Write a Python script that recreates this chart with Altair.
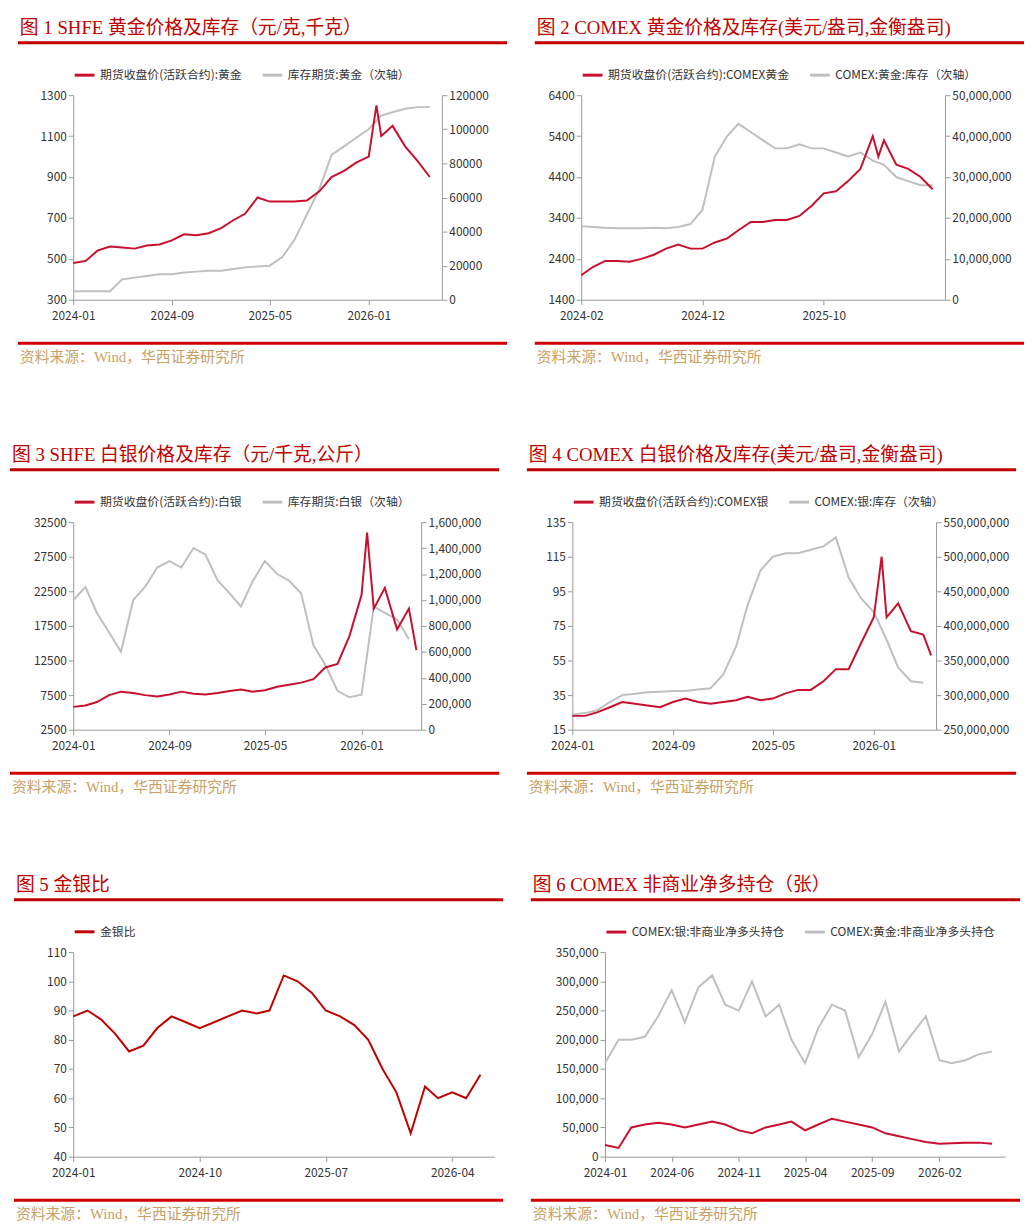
import pandas as pd
import altair as alt

RED = "#c8102e"
GRAY = "#bfbfbf"
TITLE_RED = "#c00000"
SRC = "#c9a063"
SERIF = "Liberation Serif, Noto Sans CJK SC"
SANS = "Noto Sans CJK SC"

# months helper lists (typed out)
m24 = ["2024-01", "2024-02", "2024-03", "2024-04", "2024-05", "2024-06", "2024-07", "2024-08",
       "2024-09", "2024-10", "2024-11", "2024-12"]
m25 = ["2025-01", "2025-02", "2025-03", "2025-04", "2025-05", "2025-06", "2025-07", "2025-08",
       "2025-09", "2025-10", "2025-11", "2025-12"]

# ---- fig 1 SHFE gold
g1_dates = m24 + m25 + ["2026-01", "2026-01-20", "2026-02", "2026-03", "2026-04", "2026-05", "2026-06"]
g1_price = [480, 490, 540, 560, 555, 550, 565, 570, 590, 620, 615, 625,
            650, 690, 720, 800, 780, 780, 780, 785, 830, 900, 930, 970,
            1000, 1250, 1100, 1150, 1050, 980, 900]
g1_inv_dates = m24 + m25 + ["2026-01", "2026-02", "2026-03", "2026-04", "2026-05", "2026-06"]
g1_inv = [5000, 5000, 5000, 5000, 12000, 13000, 14000, 15000, 15000, 16000, 16500, 17000,
          17000, 18000, 19000, 19500, 20000, 25000, 35000, 50000, 65000, 85000, 90000, 95000,
          100000, 108000, 110000, 112000, 113000, 113000]

# ---- fig 2 COMEX gold
g2_dates = m24[1:] + m25 + ["2026-01", "2026-02", "2026-02-15", "2026-03", "2026-04", "2026-05", "2026-06", "2026-07"]
g2_price = [2000, 2200, 2350, 2350, 2330, 2400, 2500, 2650, 2750, 2650, 2650,
            2800, 2900, 3100, 3300, 3300, 3350, 3350, 3450, 3700, 4000, 4050, 4300,
            4600, 5400, 4900, 5300, 4700, 4600, 4400, 4100]
g2_inv_dates = m24[1:] + m25 + ["2026-01", "2026-02", "2026-03", "2026-04", "2026-05", "2026-06", "2026-07"]
g2_inv = [18e6, 17.8e6, 17.6e6, 17.5e6, 17.5e6, 17.5e6, 17.6e6, 17.5e6, 17.8e6, 18.5e6, 22e6,
          35e6, 40e6, 43e6, 41e6, 39e6, 37e6, 37e6, 38e6, 37e6, 37e6, 36e6, 35e6,
          36e6, 34e6, 33e6, 30e6, 29e6, 28e6, 28e6]

# ---- fig 3 SHFE silver
s3_dates = m24 + m25 + ["2026-01", "2026-01-15", "2026-02", "2026-03", "2026-04", "2026-05", "2026-05-20"]
s3_price = [5800, 6000, 6500, 7500, 8000, 7800, 7500, 7300, 7600, 8000, 7700, 7600,
            7800, 8100, 8300, 8000, 8200, 8700, 9000, 9300, 9800, 11500, 12000, 16000,
            22000, 31000, 20000, 23000, 17000, 20000, 14000]
s3_inv_dates = m24 + m25 + ["2026-01", "2026-02", "2026-03", "2026-04", "2026-05"]
s3_inv = [1000000, 1100000, 900000, 750000, 600000, 1000000, 1100000, 1250000, 1300000, 1250000,
          1400000, 1350000, 1150000, 1050000, 950000, 1150000, 1300000, 1200000, 1150000, 1050000,
          650000, 500000, 300000, 250000, 270000, 950000, 900000, 850000, 700000]

# ---- fig 4 COMEX silver
s4_dates = m24 + m25 + ["2026-01", "2026-01-20", "2026-02", "2026-03", "2026-04", "2026-05", "2026-05-20"]
s4_price = [23, 23, 25, 28, 31, 30, 29, 28, 31, 33, 31, 30,
            31, 32, 34, 32, 33, 36, 38, 38, 43, 50, 50, 65,
            80, 115, 80, 88, 72, 70, 58]
s4_inv_dates = m24 + m25 + ["2026-01", "2026-02", "2026-03", "2026-04", "2026-05"]
s4_inv = [272e6, 274e6, 278e6, 290e6, 300e6, 302e6, 304e6, 305e6, 306e6, 306e6, 308e6, 310e6,
          330e6, 370e6, 430e6, 480e6, 500e6, 505e6, 505e6, 510e6, 515e6, 528e6, 470e6, 440e6,
          420e6, 380e6, 340e6, 320e6, 318e6]

# ---- fig 5 gold/silver ratio
r5_dates = m24 + m25 + ["2026-01", "2026-02", "2026-03", "2026-04", "2026-05", "2026-06"]
r5_vals = [88, 90, 87, 82, 76, 78, 84, 88, 86, 84, 86, 88,
           90, 89, 90, 102, 100, 96, 90, 88, 85, 80, 70, 62,
           48, 64, 60, 62, 60, 68]

# ---- fig 6 COMEX net long
n6_dates = m24 + m25 + ["2026-01", "2026-02", "2026-03", "2026-04", "2026-05", "2026-06"]
n6_silver = [20000, 15000, 50000, 55000, 58000, 55000, 50000, 55000, 60000, 55000, 45000, 40000,
             50000, 55000, 60000, 45000, 55000, 65000, 60000, 55000, 50000, 40000, 35000, 30000,
             25000, 22000, 23000, 24000, 24000, 22000]
n6_gold = [160000, 200000, 200000, 205000, 240000, 285000, 230000, 290000, 310000, 260000, 250000, 300000,
           240000, 260000, 200000, 160000, 220000, 260000, 250000, 170000, 210000, 265000, 180000, 210000,
           240000, 165000, 160000, 165000, 175000, 180000]

W = 495
NOVIEW = alt.ViewBackground(strokeWidth=0, stroke="transparent")


def dt(s):
    y, m = s.split("-")[:2]
    return alt.DateTime(year=int(y), month=int(m), date=1)


def header(text, off):
    t = alt.Chart(pd.DataFrame({"t": [text]})).mark_text(
        align="left", baseline="middle", font=SERIF, fontSize=19, color=TITLE_RED
    ).encode(x=alt.value(2 - off), y=alt.value(13), text="t:N")
    r = alt.Chart(pd.DataFrame({"a": [0]})).mark_rule(color=TITLE_RED, strokeWidth=3).encode(
        x=alt.value(-off), x2=alt.value(W - off), y=alt.value(28))
    return (t + r).properties(width=W - off - 10, height=30, view=NOVIEW)


def footer(off):
    r = alt.Chart(pd.DataFrame({"a": [0]})).mark_rule(color="#d00000", strokeWidth=3).encode(
        x=alt.value(-off), x2=alt.value(W - off), y=alt.value(2))
    t = alt.Chart(pd.DataFrame({"t": ["资料来源：Wind，华西证券研究所"]})).mark_text(
        align="left", baseline="middle", font=SERIF, fontSize=15, color=SRC
    ).encode(x=alt.value(2 - off), y=alt.value(16), text="t:N")
    return (r + t).properties(width=W - off - 10, height=26, view=NOVIEW)


def frame(dates, vals, name):
    return pd.DataFrame({"date": pd.to_datetime(dates, format="mixed"), "v": vals, "s": name})


def legend():
    return alt.Legend(orient="top", title=None, symbolType="stroke", symbolStrokeWidth=3,
                      symbolSize=400, labelFontSize=12, labelFont=SANS, labelLimit=400,
                      columnPadding=14, offset=14)


def xaxis(xdom, xticks):
    return alt.X("date:T", title=None,
                 scale=alt.Scale(domain=[dt(xdom[0]), dt(xdom[1])]),
                 axis=alt.Axis(values=[dt(v) for v in xticks], format="%Y-%m", labelFontSize=12,
                               labelFlush=False, grid=False, domainColor="#999", tickColor="#999",
                               labelPadding=6))


AX = dict(grid=False, labelFontSize=12, domainColor="#999", tickColor="#999", tickSize=5)


def plot(series, xdom, xticks, ldom, lticks, rdom=None, rticks=None, rfmt=",d",
         width=370, height=207, colors=(RED, GRAY)):
    names = [s["s"].iloc[0] for s in series]
    color = alt.Color("s:N", scale=alt.Scale(domain=names, range=list(colors[:len(names)])),
                      legend=legend())
    x = xaxis(xdom, xticks)
    left = alt.Chart(series[0]).mark_line(strokeWidth=2).encode(
        x=x, color=color,
        y=alt.Y("v:Q", title=None, scale=alt.Scale(domain=ldom, nice=False, zero=False),
                axis=alt.Axis(values=lticks, format="d", **AX)))
    if rdom is None:
        c = left
    else:
        right = alt.Chart(series[1]).mark_line(strokeWidth=2).encode(
            x=x, color=color,
            y=alt.Y("v:Q", title=None, scale=alt.Scale(domain=rdom, nice=False, zero=False),
                    axis=alt.Axis(values=rticks, format=rfmt, orient="right", **AX)))
        c = alt.layer(right, left).resolve_scale(y="independent")
    return c.properties(width=width, height=height, view=NOVIEW)


def panel(title, off, body):
    return alt.vconcat(
        alt.vconcat(header(title, off), body, spacing=19).resolve_scale(color="independent"),
        footer(off), spacing=20).resolve_scale(color="independent")


p1 = panel("图 1 SHFE 黄金价格及库存（元/克,千克）", 56, plot(
    [frame(g1_dates, g1_price, "期货收盘价(活跃合约):黄金"), frame(g1_inv_dates, g1_inv, "库存期货:黄金（次轴）")],
    ("2024-01", "2026-07"), ["2024-01", "2024-09", "2025-05", "2026-01"],
    [300, 1300], [300, 500, 700, 900, 1100, 1300], [0, 120000], list(range(0, 120001, 20000)), rfmt="d",
    width=373))
p2 = panel("图 2 COMEX 黄金价格及库存(美元/盎司,金衡盎司)", 47, plot(
    [frame(g2_dates, g2_price, "期货收盘价(活跃合约):COMEX黄金"), frame(g2_inv_dates, g2_inv, "COMEX:黄金:库存（次轴）")],
    ("2024-02", "2026-08"), ["2024-02", "2024-12", "2025-10"],
    [1400, 6400], [1400, 2400, 3400, 4400, 5400, 6400], [0, 50e6], [0, 10e6, 20e6, 30e6, 40e6, 50e6],
    width=368))
p3 = panel("图 3  SHFE 白银价格及库存（元/千克,公斤）", 64, plot(
    [frame(s3_dates, s3_price, "期货收盘价(活跃合约):白银"), frame(s3_inv_dates, s3_inv, "库存期货:白银（次轴）")],
    ("2024-01", "2026-06"), ["2024-01", "2024-09", "2025-05", "2026-01"],
    [2500, 32500], [2500, 7500, 12500, 17500, 22500, 27500, 32500], [0, 1.6e6],
    list(range(0, 1600001, 200000)), width=352, height=210))
p4 = panel("图 4  COMEX 白银价格及库存(美元/盎司,金衡盎司)", 46, plot(
    [frame(s4_dates, s4_price, "期货收盘价(活跃合约):COMEX银"), frame(s4_inv_dates, s4_inv, "COMEX:银:库存（次轴）")],
    ("2024-01", "2026-06"), ["2024-01", "2024-09", "2025-05", "2026-01"],
    [15, 135], [15, 35, 55, 75, 95, 115, 135], [250e6, 550e6],
    [250e6, 300e6, 350e6, 400e6, 450e6, 500e6, 550e6], width=368, height=210))
p5 = panel("图 5 金银比", 60, plot(
    [frame(r5_dates, r5_vals, "金银比")],
    ("2024-01", "2026-07"), ["2024-01", "2024-10", "2025-07", "2026-04"],
    [40, 110], list(range(40, 111, 10)), width=426, height=207, colors=("#c00000",)))

# fig 6 uses a single left axis for both series
n6_names = ["COMEX:银:非商业净多头持仓", "COMEX:黄金:非商业净多头持仓"]
p6 = panel("图 6  COMEX 非商业净多持仓（张）", 75, alt.layer(
    alt.Chart(frame(n6_dates, n6_gold, n6_names[1])).mark_line(strokeWidth=2),
    alt.Chart(frame(n6_dates, n6_silver, n6_names[0])).mark_line(strokeWidth=2),
).encode(
    x=xaxis(("2024-01", "2026-07"), ["2024-01", "2024-06", "2024-11", "2025-04", "2025-09", "2026-02"]),
    y=alt.Y("v:Q", title=None, scale=alt.Scale(domain=[0, 350000], nice=False),
            axis=alt.Axis(values=list(range(0, 350001, 50000)), format=",d", **AX)),
    color=alt.Color("s:N", scale=alt.Scale(domain=n6_names, range=[RED, GRAY]), legend=legend()),
).properties(width=405, height=207, view=NOVIEW))

chart = alt.vconcat(
    alt.hconcat(p1, p2, spacing=24).resolve_scale(color="independent"),
    alt.hconcat(p3, p4, spacing=24).resolve_scale(color="independent"),
    alt.hconcat(p5, p6, spacing=24).resolve_scale(color="independent"),
    spacing=76,
).resolve_scale(color="independent").configure_view(strokeWidth=0).configure(
    font=SANS, padding=0).configure_axis(labelColor="#333", labelFont=SANS).configure_legend(
    labelColor="#333")

chart.save("out.html", embed_options={"renderer": "svg", "actions": False})
